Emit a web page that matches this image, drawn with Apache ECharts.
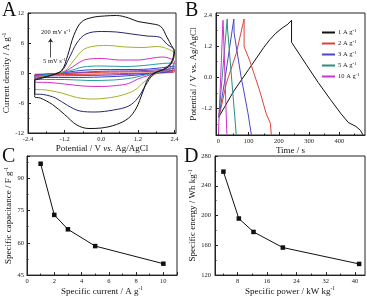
<!DOCTYPE html>
<html>
<head>
<meta charset="utf-8">
<script src="https://cdn.jsdelivr.net/npm/echarts@6/dist/echarts.min.js"></script>
<style>
  html, body { margin: 0; padding: 0; background: #fff; }
  #main { width: 367px; height: 297px; }
</style>
</head>
<body>
<div id="main"></div>
<script>
// ---- panel A : CV curves, [potential V, current density A/g] ----
const cvBlack = [[-2.18,-1.4],[-1.7,-0.6],[-1.3,0.5],[-1.1,3.5],[-0.9,7.5],[-0.65,10.2],[-0.3,11.1],[0.1,11.4],[0.5,11.5],[0.9,11.0],[1.2,10.3],[1.6,9.9],[1.95,9.3],[2.15,7.2],[2.3,5.5],[2.4,4.3],[2.3,2.0],[2.1,0.8],[1.8,0.2],[1.55,-1.0],[1.35,-4.0],[1.15,-7.0],[0.9,-9.0],[0.5,-10.3],[0.0,-11.0],[-0.4,-11.1],[-0.8,-10.4],[-1.2,-8.3],[-1.6,-6.3],[-2.0,-5.0],[-2.18,-4.8],[-2.18,-1.4]];
const cvNavy = [[-2.18,-1.2],[-1.7,-0.5],[-1.3,0.4],[-1.05,3.0],[-0.8,6.0],[-0.5,7.8],[0.0,8.3],[0.5,8.2],[1.0,7.8],[1.5,7.4],[1.9,7.2],[2.15,5.8],[2.38,4.5],[2.3,2.2],[2.0,0.6],[1.7,-0.3],[1.45,-2.5],[1.2,-5.0],[0.9,-6.6],[0.4,-7.4],[-0.2,-7.8],[-0.7,-7.6],[-1.1,-6.5],[-1.5,-5.0],[-1.9,-4.3],[-2.18,-4.2],[-2.18,-1.2]];
const cvOlive = [[-2.18,-1.0],[-1.6,-0.3],[-1.2,0.4],[-0.9,2.5],[-0.6,4.6],[-0.3,5.3],[0.2,5.5],[0.8,5.2],[1.4,5.1],[1.8,5.3],[2.1,5.0],[2.4,3.8],[2.3,1.8],[2.0,0.5],[1.7,-0.5],[1.4,-1.8],[1.1,-3.4],[0.7,-4.4],[0.2,-5.0],[-0.3,-5.2],[-0.8,-4.9],[-1.3,-4.0],[-1.8,-3.4],[-2.18,-3.2],[-2.18,-1.0]];
const cvMagenta = [[-2.18,-0.8],[-1.5,-0.2],[-1.1,0.6],[-0.8,1.8],[-0.5,2.7],[0.0,2.9],[0.6,2.6],[1.2,2.6],[1.7,3.0],[2.0,3.2],[2.25,2.9],[2.4,2.3],[2.3,1.2],[2.0,0.3],[1.6,-0.4],[1.2,-1.2],[0.9,-2.1],[0.5,-2.5],[0.0,-2.7],[-0.6,-2.6],[-1.2,-2.2],[-1.7,-1.9],[-2.18,-1.8],[-2.18,-0.8]];
const cvTeal = [[-2.18,-0.6],[-1.5,-0.1],[-1.0,0.5],[-0.6,1.2],[0.0,1.4],[0.8,1.3],[1.4,1.5],[2.0,1.9],[2.4,2.0],[2.3,0.9],[1.9,0.2],[1.5,-0.3],[1.0,-1.0],[0.4,-1.4],[-0.4,-1.5],[-1.2,-1.3],[-1.8,-1.3],[-2.18,-1.3],[-2.18,-0.6]];
const cvBlue = [[-2.18,-0.5],[-1.2,0.1],[-0.5,0.6],[0.3,0.7],[1.2,0.7],[1.9,1.0],[2.4,1.4],[2.3,0.5],[1.8,0.0],[1.0,-0.5],[0.0,-0.8],[-1.0,-0.9],[-1.8,-0.9],[-2.18,-0.9],[-2.18,-0.5]];
const cvPurple = [[-2.18,-0.4],[-1.0,0.0],[0.0,0.35],[1.2,0.45],[2.0,0.7],[2.4,0.9],[2.35,0.3],[1.5,-0.1],[0.0,-0.45],[-1.2,-0.55],[-2.18,-0.6],[-2.18,-0.4]];
const cvRed = [[-2.18,-0.25],[-1.0,-0.05],[0.0,0.15],[1.2,0.25],[2.4,0.5],[2.4,0.2],[1.2,-0.05],[0.0,-0.2],[-1.2,-0.3],[-2.18,-0.35],[-2.18,-0.25]];
const cvTicksX = [-2.4, -1.2, 0, 1.2, 2.4];
const cvTicksY = [-12, -6, 0, 6, 12];

// ---- panel B : charge/discharge, [time s, potential V] ----
const gcdNames = ['1 A g', '2 A g', '3 A g', '5 A g', '10 A g'];
const gcd1 = [[3,-1.5],[50,-0.55],[100,0.3],[150,1.15],[170,1.45],[190,1.7],[211,1.9],[230,2.05],[242,2.2],[242,1.35],[290,0.5],[330,-0.2],[370,-0.85],[405,-1.4],[430,-1.75],[455,-1.9],[470,-2.05],[478,-2.22]];
const gcd2 = [[2,-1.55],[26,-0.24],[59,0.92],[85,2.25],[85,1.18],[103,0.66],[136,-0.5],[158,-1.4],[172,-1.78],[175,-2.22]];
const gcd3 = [[1,-1.55],[20,-0.2],[51,2.25],[52,1.7],[75,0.02],[98,-1.4],[109,-2.22]];
const gcd5 = [[1,-1.55],[29,2.25],[30,1.9],[59,-2.22]];
const gcd10 = [[0,-2.2],[15,2.2],[16,2.0],[28,-2.22]];
const gcdTicksX = [0, 100, 200, 300, 400];
const gcdTicksY = [-1.2, 0, 1.2, 2.4];

// ---- panel C ----
const currentDensity = [1, 2, 3, 5, 10];
const capacitance = [96.8, 73.0, 66.3, 58.5, 50.3];
// ---- panel D ----
const power = [4.1, 8.3, 12.3, 20.3, 41.1];
const energy = [259, 196, 178, 157, 135];
const powerTicks = [8, 16, 24, 32, 40];

const serif = 'Liberation Serif';
const sup = { fontSize: 5.5, fontFamily: serif, padding: [0, 0, 5, 0] };
const vsIt = { fontSize: 9, fontFamily: serif, fontStyle: 'italic' };

function valAxis(grid, opts) {
  return Object.assign({
    type: 'value',
    gridIndex: grid,
    nameLocation: 'middle',
    nameTextStyle: { fontFamily: serif, fontSize: 9, color: '#111', rich: { s: sup, i: vsIt } },
    axisLine: { show: true, onZero: false, lineStyle: { color: '#222', width: 1 } },
    axisTick: { show: true, inside: true, length: 3, lineStyle: { color: '#222' } },
    minorTick: { show: true, splitNumber: 2, length: 1.5, lineStyle: { color: '#222' } },
    axisLabel: { fontFamily: serif, fontSize: 6.5, color: '#222', margin: 3, showMaxLabel: false },
    splitLine: { show: false }
  }, opts);
}
// tick-only helper axis for minor ticks
function minorAxis(grid, pos, min, max, vals) {
  return {
    type: 'value', gridIndex: grid, position: pos, min: min, max: max,
    axisLine: { show: false, onZero: false }, axisLabel: { show: false }, splitLine: { show: false },
    axisTick: { show: true, inside: true, length: 1.5, customValues: vals, lineStyle: { color: '#222' } }
  };
}

const cvSeries = [
  [cvRed, '#e0302a'], [cvPurple, '#7b3fb8'], [cvBlue, '#2f3fd8'], [cvTeal, '#2a9d9d'],
  [cvMagenta, '#d42dc8'], [cvOlive, '#a8b02a'], [cvNavy, '#26266e'], [cvBlack, '#111111']
].map(function (c, i) {
  return {
    type: 'line', xAxisIndex: 0, yAxisIndex: 0, data: c[0], smooth: 0.35,
    showSymbol: false, silent: true, z: 2 + i,
    lineStyle: { color: c[1], width: 1 }
  };
});
cvSeries[7].markLine = {
  silent: true, symbol: ['none', 'arrow'], symbolSize: 4,
  label: { show: false },
  lineStyle: { color: '#222', width: 0.8, type: 'solid' },
  data: [[{ coord: [-1.66, 3.1] }, { coord: [-1.66, 6.9] }]]
};

const gcdColors = ['#111111', '#d9443a', '#4a46c8', '#2a8f80', '#d030d0'];
const gcdSeries = [gcd1, gcd2, gcd3, gcd5, gcd10].map(function (d, i) {
  return {
    name: gcdNames[i], type: 'line', xAxisIndex: 1, yAxisIndex: 1, data: d,
    showSymbol: false, silent: true, lineStyle: { color: gcdColors[i], width: 1 },
    itemStyle: { color: gcdColors[i] }
  };
});

const chart = echarts.init(document.getElementById('main'), null, { renderer: 'canvas' });
const option = {
  animation: false,
  backgroundColor: '#fff',
  grid: [
    { left: 28, top: 13, width: 148, height: 120, show: true, borderColor: '#222', borderWidth: 1 },
    { left: 216, top: 13, width: 149, height: 122, show: true, borderColor: '#222', borderWidth: 1 },
    { left: 27, top: 156, width: 150, height: 120, show: true, borderColor: '#222', borderWidth: 1 },
    { left: 215, top: 156, width: 150, height: 120, show: true, borderColor: '#222', borderWidth: 1 }
  ],
  xAxis: [
    valAxis(0, { min: -2.4, max: 2.45, interval: 1.2, name: 'Potential / V {i|vs.} Ag/AgCl', nameGap: 10,
      axisLabel: { fontFamily: serif, fontSize: 6.5, color: '#222', margin: 3, customValues: cvTicksX, formatter: v => v.toFixed(1) },
      axisTick: { show: true, inside: true, length: 3, customValues: cvTicksX, lineStyle: { color: '#222' } },
      minorTick: { show: false } }),
    valAxis(1, { min: -8, max: 485, name: 'Time / s', nameGap: 10,
      axisLabel: { fontFamily: serif, fontSize: 6.5, color: '#222', margin: 3, customValues: gcdTicksX },
      axisTick: { show: true, inside: true, length: 3, customValues: gcdTicksX, lineStyle: { color: '#222' } },
      minorTick: { show: false } }),
    valAxis(2, { min: 0, max: 11, interval: 2, name: 'Specific current / A g{s|-1}', nameGap: 10 }),
    valAxis(3, { min: 1.8, max: 42.7, name: 'Specific power / kW kg{s|-1}', nameGap: 10,
      axisLabel: { fontFamily: serif, fontSize: 6.5, color: '#222', margin: 3, customValues: powerTicks },
      axisTick: { show: true, inside: true, length: 3, customValues: powerTicks, lineStyle: { color: '#222' } },
      minorTick: { show: false } }),
    minorAxis(0, 'bottom', -2.4, 2.45, [-1.8, -0.6, 0.6, 1.8]),
    minorAxis(1, 'bottom', -8, 485, [50, 150, 250, 350, 450]),
    minorAxis(3, 'bottom', 1.8, 42.7, [4, 12, 20, 28, 36])
  ],
  yAxis: [
    valAxis(0, { min: -12, max: 12, interval: 6, name: 'Current density / A g{s|-1}', nameGap: 15,
      axisLabel: { fontFamily: serif, fontSize: 6.5, color: '#222', margin: 4, customValues: cvTicksY } }),
    valAxis(1, { min: -2.23, max: 2.48, name: 'Potential / V vs. Ag/AgCl', nameGap: 13,
      axisLabel: { fontFamily: serif, fontSize: 6.5, color: '#222', margin: 4, customValues: gcdTicksY, formatter: v => v.toFixed(1) },
      axisTick: { show: true, inside: true, length: 3, customValues: gcdTicksY, lineStyle: { color: '#222' } },
      minorTick: { show: false } }),
    valAxis(2, { min: 45, max: 100.4, interval: 15, name: 'Specific capacitance / F g{s|-1}', nameGap: 12 }),
    valAxis(3, { min: 120, max: 280, interval: 40, name: 'Specific energy / Wh kg{s|-1}', nameGap: 11,
      axisLabel: { fontFamily: serif, fontSize: 6.5, color: '#222', margin: 4 } }),
    minorAxis(1, 'left', -2.23, 2.48, [-1.8, -0.6, 0.6, 1.8])
  ],
  legend: {
    data: gcdNames, orient: 'vertical', left: 317, top: 23, itemGap: 3,
    itemWidth: 13, itemHeight: 2, icon: 'rect',
    formatter: n => n + '{s|-1}',
    textStyle: { fontFamily: serif, fontSize: 6.5, color: '#222', padding: [0, 0, 0, -2], rich: { s: { fontSize: 5, fontFamily: serif, padding: [0, 0, 4, 0] } } }
  },
  graphic: [
    { type: 'text', left: 2, top: 1, style: { text: 'A', font: '20px "Liberation Serif"', fill: '#111' } },
    { type: 'text', left: 185, top: 1, style: { text: 'B', font: '20px "Liberation Serif"', fill: '#111' } },
    { type: 'text', left: 2, top: 147, style: { text: 'C', font: '20px "Liberation Serif"', fill: '#111' } },
    { type: 'text', left: 184, top: 147, style: { text: 'D', font: '20px "Liberation Serif"', fill: '#111' } },
    { type: 'text', left: 41, top: 28, style: { text: '200 mV s{s|-1}', font: '6.5px "Liberation Serif"', fill: '#222', rich: { s: { fontSize: 5, fontFamily: serif, padding: [0, 0, 4, 0] } } } },
    { type: 'text', left: 43, top: 57, style: { text: '5 mV s{s|-1}', font: '6.5px "Liberation Serif"', fill: '#222', rich: { s: { fontSize: 5, fontFamily: serif, padding: [0, 0, 4, 0] } } } }
  ],
  series: cvSeries.concat(gcdSeries, [
    {
      type: 'line', xAxisIndex: 2, yAxisIndex: 2, silent: true,
      data: currentDensity.map((x, i) => [x, capacitance[i]]),
      symbol: 'rect', symbolSize: 4.5, lineStyle: { color: '#111', width: 1 }, itemStyle: { color: '#111' }
    },
    {
      type: 'line', xAxisIndex: 3, yAxisIndex: 3, silent: true,
      data: power.map((x, i) => [x, energy[i]]),
      symbol: 'rect', symbolSize: 4.5, lineStyle: { color: '#111', width: 1 }, itemStyle: { color: '#111' }
    }
  ])
};
chart.setOption(option);
</script>
</body>
</html>
